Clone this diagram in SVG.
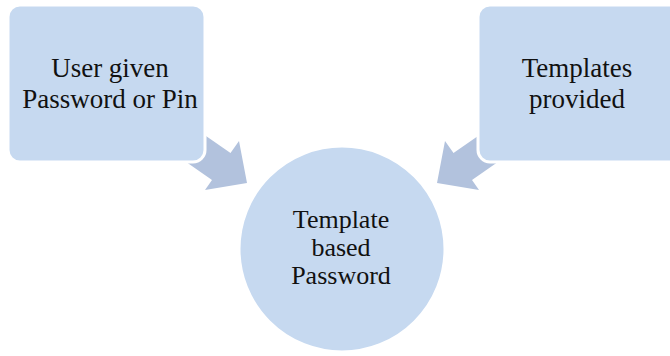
<svg xmlns="http://www.w3.org/2000/svg" width="670" height="356" viewBox="0 0 670 356">
  <style>
    .shape { fill: #c6d9f0; stroke: #ffffff; stroke-width: 3; }
    .arrow { fill: #b2c2dd; stroke: none; }
    .label { font-family: "Liberation Serif", "Times New Roman", serif; font-size: 27px; fill: #111111; text-anchor: middle; }
    .label-c { font-size: 26px; }
  </style>
  <rect width="670" height="356" fill="#ffffff"/>

  <!-- converging arrows (drawn beneath the source boxes) -->
  <g id="connectors">
    <polygon class="arrow" points="247,183 239,141 230.5,153 197.7,130.2 179,157 212,180 205,190"/>
    <polygon class="arrow" points="437,183 445,141 453.5,153 486.3,130.2 505,157 472,180 479,190"/>
  </g>

  <g id="node-user-password">
    <rect class="shape" x="8" y="5" width="197" height="157" rx="12"/>
    <text class="label" x="110" y="77">User given</text>
    <text class="label" x="110" y="108">Password or Pin</text>
  </g>

  <g id="node-templates">
    <rect class="shape" x="478" y="5" width="205" height="157" rx="12"/>
    <text class="label" x="577" y="77">Templates</text>
    <text class="label" x="577" y="108">provided</text>
  </g>

  <g id="node-template-password">
    <circle class="shape" cx="342" cy="249" r="103"/>
    <text class="label label-c" x="341" y="228">Template</text>
    <text class="label label-c" x="341" y="256">based</text>
    <text class="label label-c" x="341" y="284">Password</text>
  </g>
</svg>
